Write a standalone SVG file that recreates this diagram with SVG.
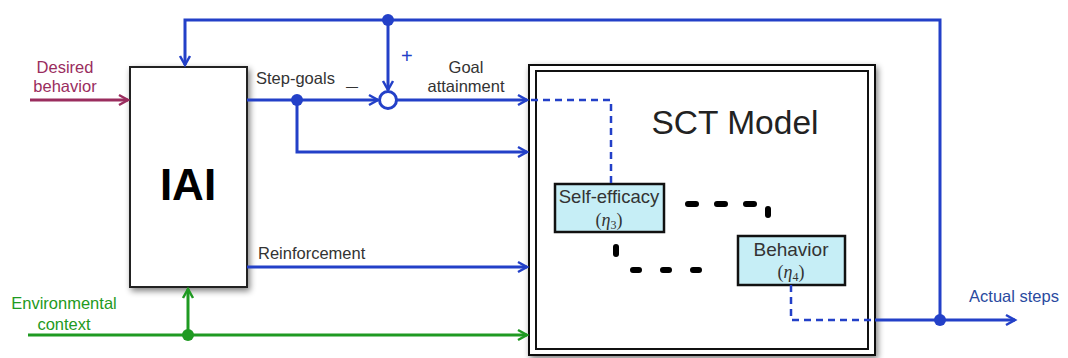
<svg xmlns="http://www.w3.org/2000/svg" width="1068" height="358" viewBox="0 0 1068 358">
<style>
.b{stroke:#2340c8;stroke-width:3;fill:none}
.g{stroke:#1f9a22;stroke-width:3;fill:none}
.m{stroke:#9a2d5e;stroke-width:3;fill:none}
.bd{stroke:#2340c8;stroke-width:2.5;fill:none;stroke-dasharray:7,5}
.kd{stroke:#000;stroke-width:6;fill:none;stroke-dasharray:8,21;stroke-linecap:round}
.t{font-family:"Liberation Sans",Arial,sans-serif;font-size:16.5px;fill:#333}
</style>
<defs>
<marker id="ab" markerWidth="14" markerHeight="14" refX="11" refY="7" orient="auto" markerUnits="userSpaceOnUse"><path d="M2,2 L11,7 L2,12" fill="none" stroke="#2340c8" stroke-width="2.5"/></marker>
<marker id="ag" markerWidth="14" markerHeight="14" refX="11" refY="7" orient="auto" markerUnits="userSpaceOnUse"><path d="M2,2 L11,7 L2,12" fill="none" stroke="#1f9a22" stroke-width="2.5"/></marker>
<marker id="am" markerWidth="14" markerHeight="14" refX="11" refY="7" orient="auto" markerUnits="userSpaceOnUse"><path d="M2,2 L11,7 L2,12" fill="none" stroke="#9a2d5e" stroke-width="2.5"/></marker>
<filter id="sh" x="-10%" y="-10%" width="130%" height="130%"><feGaussianBlur in="SourceAlpha" stdDeviation="3"/><feOffset dx="2" dy="3"/><feComponentTransfer><feFuncA type="linear" slope="0.5"/></feComponentTransfer><feMerge><feMergeNode/><feMergeNode in="SourceGraphic"/></feMerge></filter>
</defs>
<rect width="1068" height="358" fill="#fff"/>
<g id="iai">
<rect x="130" y="67" width="117" height="220" fill="#fff" stroke="#222" stroke-width="2" filter="url(#sh)"/>
<text x="188" y="200" text-anchor="middle" style="font-family:'Liberation Sans',Arial,sans-serif;font-size:44px;font-weight:bold" fill="#000">IAI</text>
</g>
<g id="sct">
<rect x="529" y="65" width="346" height="290" fill="#fff" stroke="#111" stroke-width="2" filter="url(#sh)"/>
<rect x="536" y="71" width="332" height="278" fill="none" stroke="#111" stroke-width="2"/>
<text x="735" y="134" text-anchor="middle" style="font-family:'Liberation Sans',Arial,sans-serif;font-size:33.5px" fill="#222">SCT Model</text>
</g>
<g id="self-efficacy">
<rect x="555" y="184" width="109" height="48" fill="#c6eef6" stroke="#111" stroke-width="2.5"/>
<text class="t" x="609" y="203" text-anchor="middle" style="font-size:18.5px">Self-efficacy</text>
<text x="609" y="226" text-anchor="middle" style="font-family:'Liberation Serif',serif;font-size:18px" fill="#333">(<tspan font-style="italic">η</tspan><tspan font-size="12" dy="3">3</tspan><tspan dy="-3">)</tspan></text>
</g>
<g id="behavior">
<rect x="738" y="236" width="107" height="49" fill="#c6eef6" stroke="#111" stroke-width="2.5"/>
<text class="t" x="791" y="256" text-anchor="middle" style="font-size:19px">Behavior</text>
<text x="791" y="278" text-anchor="middle" style="font-family:'Liberation Serif',serif;font-size:18px" fill="#333">(<tspan font-style="italic">η</tspan><tspan font-size="12" dy="3">4</tspan><tspan dy="-3">)</tspan></text>
</g>
<g id="connectors">
<path class="b" d="M940,320 V20 H185 V65" marker-end="url(#ab)"/>
<path class="b" d="M388,20 V90" marker-end="url(#ab)"/>
<path class="b" d="M247,100 H378" marker-end="url(#ab)"/>
<path class="b" d="M397,100 H527" marker-end="url(#ab)"/>
<path class="b" d="M297,100 V152 H527" marker-end="url(#ab)"/>
<path class="b" d="M247,267 H527" marker-end="url(#ab)"/>
<path class="m" d="M30,100 H128" marker-end="url(#am)"/>
<path class="g" d="M28,335 H527" marker-end="url(#ag)"/>
<path class="g" d="M188,335 V289" marker-end="url(#ag)"/>
<path class="b" d="M875,320 H1015" marker-end="url(#ab)"/>
<path class="bd" d="M531,100 H611 V184"/>
<path class="bd" d="M791,285 V320 H875"/>
<path class="kd" d="M688,204 H754"/>
<path class="kd" d="M768,209 V215"/>
<path class="kd" d="M616,247 V254"/>
<path class="kd" d="M633,270 H699" style="stroke-dasharray:6,24"/>
<circle cx="388" cy="20" r="6" fill="#2340c8"/>
<circle cx="297" cy="100" r="6" fill="#2340c8"/>
<circle cx="388" cy="100" r="8.5" fill="#fff" stroke="#2340c8" stroke-width="3"/>
<circle cx="188" cy="335" r="6" fill="#1f9a22"/>
<circle cx="940" cy="320" r="6" fill="#2340c8"/>
</g>
<g id="labels">
<text class="t" x="65" y="73" text-anchor="middle" style="fill:#9a2d5e">Desired</text>
<text class="t" x="65" y="92" text-anchor="middle" style="fill:#9a2d5e">behavior</text>
<text class="t" x="256" y="84">Step-goals</text>
<text class="t" x="346" y="91" style="font-size:12px">—</text>
<text class="t" x="401" y="63" style="fill:#2340c8;font-size:20px">+</text>
<text class="t" x="466" y="73" text-anchor="middle">Goal</text>
<text class="t" x="466" y="92" text-anchor="middle">attainment</text>
<text class="t" x="258" y="259">Reinforcement</text>
<text class="t" x="64" y="309" text-anchor="middle" style="fill:#1f9a22">Environmental</text>
<text class="t" x="64" y="330" text-anchor="middle" style="fill:#1f9a22">context</text>
<text class="t" x="1014" y="302" text-anchor="middle" style="fill:#2a4aa0">Actual steps</text>
</g>
</svg>
